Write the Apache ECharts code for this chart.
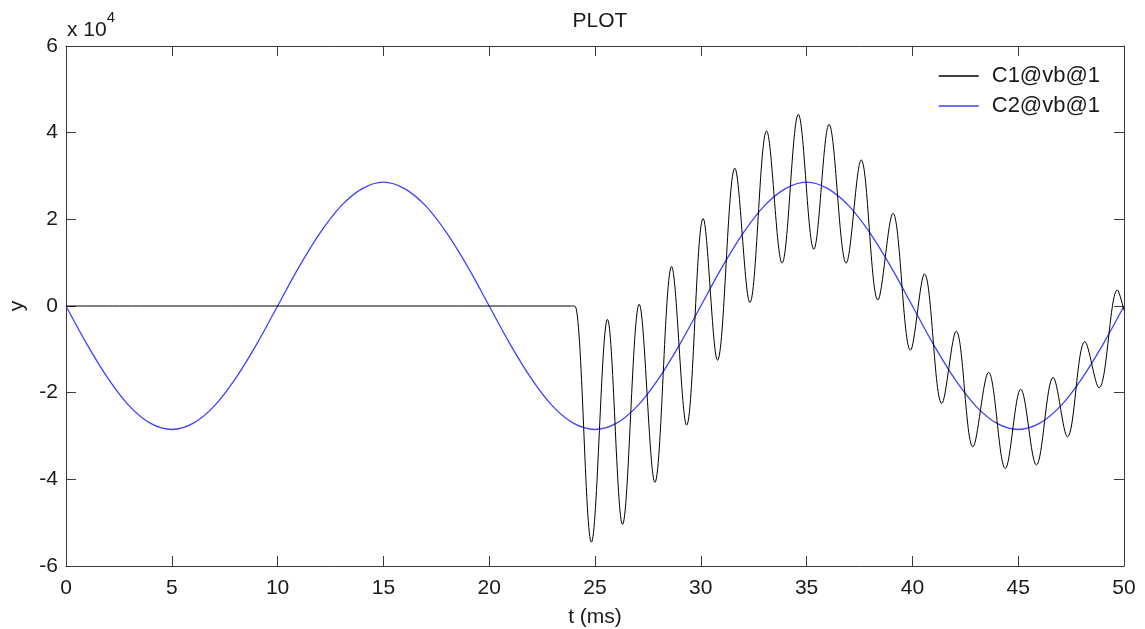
<!DOCTYPE html>
<html>
<head>
<meta charset="utf-8">
<title>PLOT</title>
<script src="https://cdn.jsdelivr.net/npm/echarts@6/dist/echarts.min.js"></script>
<style>
  html, body { margin: 0; padding: 0; background: #fff; }
  #chart { width: 1145px; height: 629px; }
</style>
</head>
<body>
<div id="chart"></div>
<script>
// 数据：单位为 x10^4，时间单位 ms
const c2Time = [0, 1, 2, 3, 4, 5, 6, 7, 8, 9, 10, 11, 12, 13, 14, 15, 16, 17, 18, 19, 20,
  21, 22, 23, 24, 25, 26, 27, 28, 29, 30, 31, 32, 33, 34, 35, 36, 37, 38, 39, 40,
  41, 42, 43, 44, 45, 46, 47, 48, 49, 50];
const c2Value = [0, -0.89, -1.68, -2.31, -2.71, -2.85, -2.71, -2.31, -1.68, -0.89, 0,
  0.89, 1.68, 2.31, 2.71, 2.86, 2.71, 2.31, 1.68, 0.89, 0,
  -0.89, -1.68, -2.31, -2.71, -2.85, -2.71, -2.31, -1.68, -0.89, 0,
  0.89, 1.68, 2.31, 2.71, 2.86, 2.71, 2.31, 1.68, 0.89, 0,
  -0.89, -1.68, -2.31, -2.71, -2.85, -2.71, -2.31, -1.68, -0.89, 0];

const c1Time = [0, 23.9, 24.05, 24.83, 25.59, 26.30, 27.09, 27.83, 28.62, 29.33, 30.11, 30.79, 31.61, 32.32,
  33.11, 33.84, 34.61, 35.34, 36.06, 36.87, 37.58, 38.37, 39.08, 39.91, 40.57, 41.39, 42.07, 42.86,
  43.60, 44.39, 45.12, 45.86, 46.65, 47.33, 48.15, 48.82, 49.69, 50];
const c1Value = [0, 0, 0, -5.45, -0.31, -5.04, 0.04, -4.07, 0.91, -2.75, 2.02, -1.25, 3.18, 0.08,
  4.04, 0.99, 4.42, 1.31, 4.19, 0.99, 3.37, 0.14, 2.14, -1.02, 0.74, -2.25, -0.58, -3.25,
  -1.53, -3.75, -1.92, -3.67, -1.65, -3.02, -0.82, -1.89, 0.37, -0.1];

const seriesNames = ['C1@vb@1', 'C2@vb@1'];
const xTicks = { min: 0, max: 50, interval: 5 };
const yTicks = { min: -6, max: 6, interval: 2 };

const FONT = 'Liberation Sans, Arial, sans-serif';
const AXIS_COLOR = '#3a3a3a';
const TEXT_COLOR = '#1a1a1a';
const BLUE = '#4040ff';

// 把时间和数值数组组合成 [x, y] 点
function zipPoints(xs, ys) {
    return xs.map((x, i) => [x, ys[i]]);
}

// 坐标轴的公共样式（刻度朝内，MATLAB 风格的外框）
function axisBase(extra) {
    return Object.assign({
        type: 'value',
        axisLine: { show: true, onZero: false, lineStyle: { color: AXIS_COLOR, width: 1 } },
        axisTick: { show: true, inside: true, length: 10, lineStyle: { color: AXIS_COLOR } },
        splitLine: { show: false },
        axisLabel: { color: TEXT_COLOR, fontSize: 21, fontFamily: FONT }
    }, extra);
}

const chart = echarts.init(document.getElementById('chart'), null, { renderer: 'canvas' });

const option = {
    animation: false,
    backgroundColor: '#fff',
    title: {
        text: 'PLOT',
        left: 595,
        top: 6,
        textAlign: 'center',
        textStyle: { fontSize: 21, fontWeight: 'normal', color: TEXT_COLOR, fontFamily: FONT }
    },
    legend: {
        right: 40,
        top: 60,
        orient: 'vertical',
        icon: 'rect',
        itemWidth: 40,
        itemHeight: 1.3,
        itemGap: 8,
        textStyle: { fontSize: 22, color: TEXT_COLOR, fontFamily: FONT, lineHeight: 21, padding: [0, 0, 0, 8] },
        data: seriesNames
    },
    grid: { left: 66, right: 21, top: 46, bottom: 63, outerBoundsMode: 'none' },
    xAxis: [
        axisBase({
            min: xTicks.min, max: xTicks.max, interval: xTicks.interval,
            position: 'bottom',
            axisLabel: { color: TEXT_COLOR, fontSize: 21, fontFamily: FONT, margin: 12 },
            name: 't (ms)',
            nameLocation: 'middle',
            nameGap: 41,
            nameTextStyle: { fontSize: 21, color: TEXT_COLOR, fontFamily: FONT }
        }),
        axisBase({
            min: xTicks.min, max: xTicks.max, interval: xTicks.interval,
            position: 'top',
            axisLabel: { show: false }
        })
    ],
    yAxis: [
        axisBase({
            min: yTicks.min, max: yTicks.max, interval: yTicks.interval,
            position: 'left',
            axisLabel: { color: TEXT_COLOR, fontSize: 21, fontFamily: FONT, margin: 8 },
            name: 'y',
            nameLocation: 'middle',
            nameGap: 38,
            nameRotate: 90,
            nameTextStyle: { fontSize: 21, color: TEXT_COLOR, fontFamily: FONT }
        }),
        axisBase({
            min: yTicks.min, max: yTicks.max, interval: yTicks.interval,
            position: 'right',
            axisLabel: { show: false }
        })
    ],
    graphic: [
        {
            // 纵轴的指数标记 "x 10^4"
            type: 'text',
            left: 67,
            top: 10,
            style: {
                text: '{b|x 10}{s|4}',
                rich: {
                    b: { fontSize: 21, fontFamily: FONT, fill: TEXT_COLOR, padding: [10, 0, 0, 0] },
                    s: { fontSize: 15, fontFamily: FONT, fill: TEXT_COLOR, verticalAlign: 'top', padding: [0, 0, 10, 0] }
                }
            }
        }
    ],
    series: [
        {
            name: seriesNames[0],
            type: 'line',
            data: zipPoints(c1Time, c1Value),
            smooth: 0.36,
            symbol: 'none',
            lineStyle: { color: '#000', width: 1 },
            itemStyle: { color: '#000' },
            z: 3
        },
        {
            name: seriesNames[1],
            type: 'line',
            data: zipPoints(c2Time, c2Value),
            smooth: 0.35,
            symbol: 'none',
            lineStyle: { color: BLUE, width: 1.3 },
            itemStyle: { color: BLUE },
            z: 2
        }
    ]
};

chart.setOption(option);
</script>
</body>
</html>
